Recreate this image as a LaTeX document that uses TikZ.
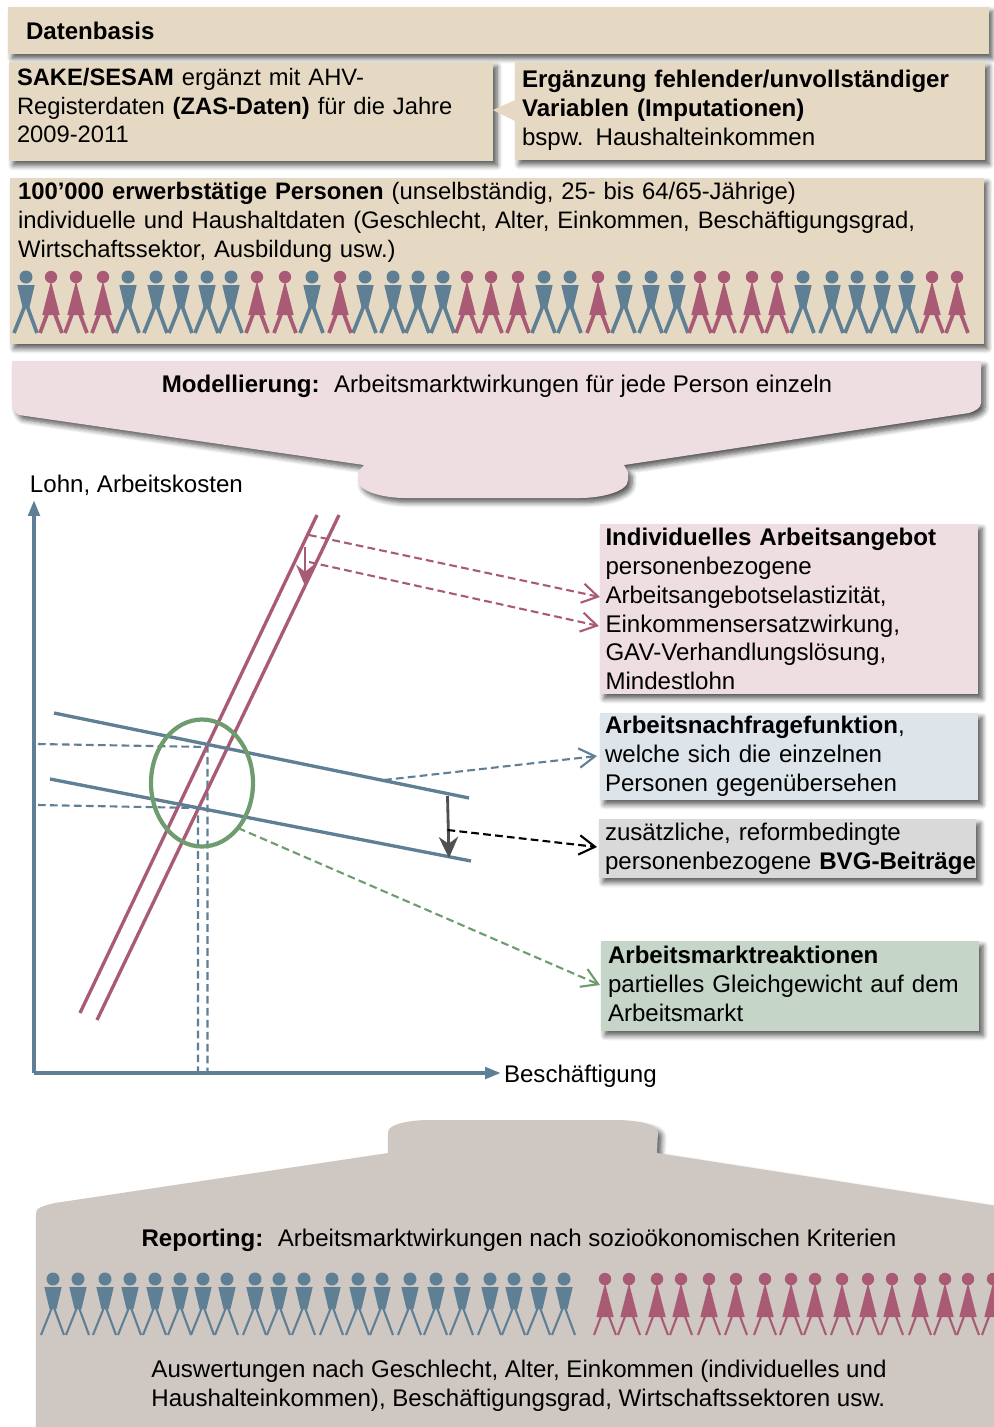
\documentclass[tikz,border=0pt]{standalone}
\usepackage{fontspec}
\setmainfont{Liberation Sans}
\usetikzlibrary{arrows.meta,shadows.blur}
\definecolor{tan}{HTML}{E6D9C3}
\definecolor{rosa}{HTML}{EEDEE1}
\definecolor{hellblau}{HTML}{DDE5EA}
\definecolor{hellgrau}{HTML}{D9D9D9}
\definecolor{hellgruen}{HTML}{C5D6C8}
\definecolor{taupe}{HTML}{CFC8C2}
\definecolor{blau}{HTML}{5F7F95}
\definecolor{rot}{HTML}{A95B75}
\definecolor{gruen}{HTML}{6E9C6E}
\definecolor{dunkel}{HTML}{505050}
\tikzset{
  schatten/.style={blur shadow={shadow xshift=0.04cm,shadow yshift=-0.045cm,shadow blur radius=0.05cm,shadow blur steps=6,shadow opacity=65}},
  txt/.style={font=\fontsize{6.85}{8.2}\selectfont,inner sep=0pt,outer sep=0pt},
  box/.style={txt,anchor=north west,align=left,inner xsep=0.08cm,schatten},
  kurve/.style={line width=0.95pt},
  hilfslinie/.style={line width=0.6pt,dash pattern=on 2.2pt off 1.2pt},
  zeiger/.style={hilfslinie,-{Straight Barb[length=4.5pt,width=5.5pt]}},
  achse/.style={blau,line width=1.1pt,-{Stealth[length=4.5pt,width=3.2pt,inset=0pt]}},
  mann/.pic={
    \fill (0,0) circle (6.5);
    \fill (-8.7,8) -- (8.7,8) -- (3.5,30) -- (-3.5,30) -- cycle;
    \draw [line width=\beinbreite] (0,26) -- (-12,56);
    \draw [line width=\beinbreite] (0,26) -- (11,56);
  },
  frau/.pic={
    \fill (0,0) circle (6.2);
    \fill (0,4) -- (8.7,38) -- (-8.7,38) -- cycle;
    \draw [line width=\beinbreite] (-3.5,36) -- (-11,56);
    \draw [line width=\beinbreite] (3.5,36) -- (11,56);
  }
}
\newcommand{\beinbreite}{1.05pt}
\newcommand{\tiefe}[1]{\rule[-#1]{0pt}{0pt}}
\begin{document}
\begin{tikzpicture}[x=0.01cm,y=-0.01cm]
\useasboundingbox (0,0) rectangle (993,1427);
\node [box,fill=tan,inner xsep=0.18cm,text width=9.44cm,minimum height=0.47cm] (datenbasis) at (8,7) {\textbf{Datenbasis}};
\node [box,fill=tan,font=\fontsize{6.75}{8.2}\selectfont,text width=4.68cm,minimum height=0.99cm] (sake) at (9,62) {\textbf{SAKE/SESAM} ergänzt mit AHV-\\Registerdaten \textbf{(ZAS-Daten)} für die Jahre\\2009-2011\tiefe{0.12cm}};
\node [box,fill=tan,inner xsep=0.07cm,text width=4.56cm,minimum height=0.98cm] (ergaenzung) at (515,62) {\textbf{Ergänzung fehlender/unvollständiger}\\\textbf{Variablen (Imputationen)}\\bspw. Haushalteinkommen\tiefe{0.06cm}};
\fill [tan] (ergaenzung.west) ++(-22,-1) -- ++(22,-10) -- ++(0,21) -- cycle;
\node [box,fill=tan,font=\fontsize{6.78}{8.2}\selectfont,text width=9.57cm,minimum height=1.66cm] (personen) at (10,178) {\textbf{100’000 erwerbstätige Personen} (unselbständig, 25- bis 64/65-Jährige)\\individuelle und Haushaltdaten (Geschlecht, Alter, Einkommen, Beschäftigungsgrad,\\Wirtschaftssektor, Ausbildung usw.)\tiefe{0.83cm}};
\foreach \x in {26,128,156,181,207,231,312,365,393,418,443,544,570,624,651,677,803,832,857,882,907}
  \path [fill=blau,draw=blau] (\x,277) pic {mann};
\foreach \x in {51,76,103,257,285,340,467,491,518,598,700,724,752,777,932,957}
  \path [fill=rot,draw=rot] (\x,277) pic {frau};
\fill [rosa,schatten] (12,361) -- (981,361) -- (981,403) .. controls (981,408) and (975,411) .. (969,413) -- (624,465) -- (628,472) -- (628,480) .. controls (628,492) and (600,498) .. (580,498) -- (405,498) .. controls (385,498) and (358,492) .. (358,480) -- (358,472) -- (364,465) -- (19,415) .. controls (15,413) and (12,408) .. (12,400) -- cycle;
\node [txt] (modellierung) at (497,386) {\textbf{Modellierung:}\hspace{0.6em}Arbeitsmarktwirkungen für jede Person einzeln};
\node [txt,anchor=west] (lohn) at (30,485) {Lohn, Arbeitskosten};
\node [txt,anchor=west] (beschaeftigung) at (504,1076) {Beschäftigung};
\coordinate (ursprung) at (34,1073);
\coordinate (ytop) at (34,500);
\coordinate (xend) at (501,1073);
\draw [achse] (ursprung) -- (ytop);
\draw [achse] (ursprung) -- (xend);
\coordinate (a1) at (80,1013);
\coordinate (a2) at (317,515);
\coordinate (b1) at (97,1020);
\coordinate (b2) at (339,515);
\coordinate (n1) at (54,713);
\coordinate (n2) at (469,798);
\coordinate (m1) at (50,779);
\coordinate (m2) at (471,861);
\coordinate (sn) at (207.5,747);
\coordinate (sm) at (198,808);
\draw [hilfslinie,blau] (38,744) -- (sn) -- (207.5,1073);
\draw [hilfslinie,blau] (38,805) -- (sm) -- (198,1073);
\draw [kurve,rot] (a1) -- (a2);
\draw [kurve,rot] (b1) -- (b2);
\draw [kurve,blau] (n1) -- (n2);
\draw [kurve,blau] (m1) -- (m2);
\draw [gruen,line width=1.2pt] (202,783) ellipse (51 and 63.5);
\draw [rot,line width=0.8pt,-{Stealth[length=6pt,width=5pt]}] (305,547) -- (305,586);
\draw [dunkel,line width=0.8pt,-{Stealth[length=6pt,width=5.5pt]}] (447.5,796) -- (449,858);
\node [box,fill=rosa,inner xsep=0.055cm,text width=3.67cm,minimum height=1.70cm] (angebot) at (600,524) {\textbf{Individuelles Arbeitsangebot}\\personenbezogene\\Arbeitsangebotselastizität,\\Einkommensersatzwirkung,\\GAV-Verhandlungslösung,\\Mindestlohn};
\node [box,fill=hellblau,inner xsep=0.05cm,text width=3.68cm,minimum height=0.87cm] (nachfrage) at (600,713) {\textbf{Arbeitsnachfragefunktion},\\welche sich die einzelnen\\Personen gegenübersehen};
\node [box,fill=hellgrau,inner xsep=0.06cm,text width=3.65cm,minimum height=0.59cm] (bvg) at (599,819) {zusätzliche, reformbedingte\\\makebox[0pt][l]{personenbezogene \textbf{BVG-Beiträge}}};
\node [box,fill=hellgruen,inner xsep=0.07cm,text width=3.64cm,minimum height=0.90cm] (reaktion) at (601,941) {\textbf{Arbeitsmarktreaktionen}\\partielles Gleichgewicht auf dem\\Arbeitsmarkt\tiefe{0.04cm}};
\coordinate (z1) at (309,535);
\coordinate (z2) at (309,562);
\coordinate (z3) at (384,780);
\coordinate (z4) at (447.5,830);
\coordinate (z5) at (238,828);
\coordinate (e1) at (600,597);
\coordinate (e2) at (599,626);
\coordinate (e3) at (597,756);
\coordinate (e4) at (597,847);
\coordinate (e5) at (600,985);
\draw [zeiger,rot] (z1) -- (e1);
\draw [zeiger,rot] (z2) -- (e2);
\draw [zeiger,blau] (z3) -- (e3);
\draw [zeiger,black] (z4) -- (e4);
\draw [zeiger,gruen] (z5) -- (e5);
\fill [taupe,schatten] (36,1213) .. controls (36,1208) and (42,1206) .. (55,1203) -- (388,1153) -- (388,1132) .. controls (388,1124) and (410,1120) .. (430,1120) -- (615,1120) .. controls (635,1120) and (658,1124) .. (658,1132) -- (657,1153) -- (1010,1208) -- (1010,1440) -- (36,1440) -- cycle;
\node [txt] (reporting) at (519,1240.5) {\textbf{Reporting:}\hspace{0.6em}Arbeitsmarktwirkungen nach sozioökonomischen Kriterien};
\renewcommand{\beinbreite}{0.6pt}
\foreach \x in {53,78,105,130,155,180,203,227,255,279,304,332,358,382,410,436,462,490,514,539,564}
  \path [fill=blau,draw=blau] (\x,1279) pic {mann};
\foreach \x in {605,629,657,681,709,736,765,791,815,842,868,892,920,945,968,993}
  \path [fill=rot,draw=rot] (\x,1279) pic {frau};
\node [txt,align=left] (auswertung) at (519,1386) {Auswertungen nach Geschlecht, Alter, Einkommen (individuelles und\\Haushalteinkommen), Beschäftigungsgrad, Wirtschaftssektoren usw.};
\end{tikzpicture}
\end{document}
